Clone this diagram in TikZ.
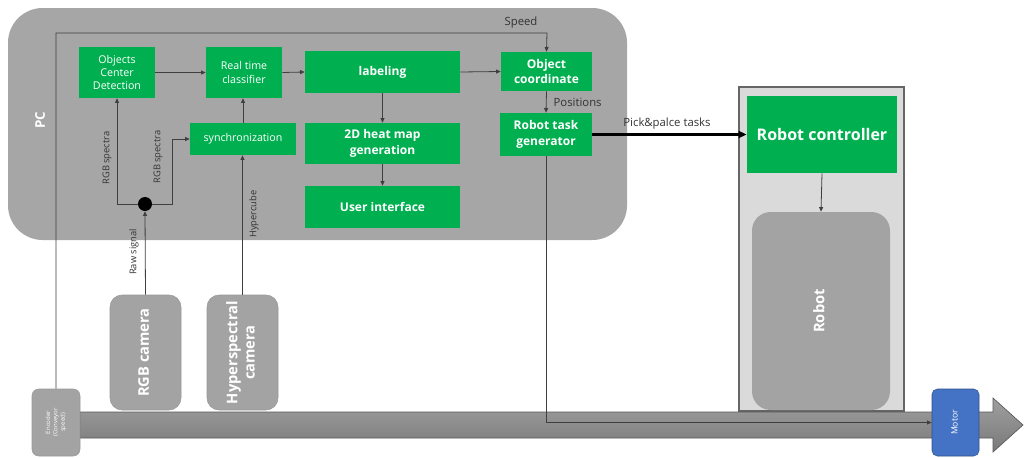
\documentclass[tikz,border=0pt]{standalone}
\usepackage{fontspec}
\setmainfont{Open Sans}
\usetikzlibrary{arrows.meta,calc}

\definecolor{pcgray}{HTML}{A6A6A6}
\definecolor{boxgreen}{HTML}{00B050}
\definecolor{camgray}{HTML}{A3A3A3}
\definecolor{cellgray}{HTML}{DADADA}
\definecolor{motorblue}{HTML}{4472C4}
\definecolor{linegray}{HTML}{3F3F3F}

\newcommand{\vtext}[1]{\rotatebox{90}{\begin{tabular}{@{}c@{}}#1\end{tabular}}}

\tikzset{
	greenbox/.style={fill=boxgreen, text=white, align=center, inner sep=1pt},
	smallgreen/.style={greenbox, font=\fontsize{8}{10}\selectfont},
	biggreen/.style={greenbox, font=\bfseries\fontsize{9}{11.5}\selectfont},
	graybox/.style={fill=camgray, draw=gray!80, rounded corners=9pt, text=white, inner sep=1pt, font=\bfseries\fontsize{11}{13}\selectfont},
	conn/.style={draw=linegray, line width=0.6pt, -{Triangle[length=3.5pt,width=3pt]}},
	lbl/.style={text=black!80, font=\fontsize{8.5}{10}\selectfont, inner sep=1pt},
	vlbl/.style={lbl, rotate=90, font=\fontsize{7}{8}\selectfont},
}

\begin{document}
\begin{tikzpicture}[x=0.75pt,y=-0.75pt]
	\useasboundingbox (0,0) rectangle (1024,457);
	
	% PC area and robot cell
	\fill[pcgray, rounded corners=26pt] (8,8) rectangle (627,240);
	\node[rotate=90, text=white, font=\bfseries\fontsize{10}{11}\selectfont] (pclbl) at (40,120) {PC};
	\draw[fill=cellgray, draw=gray!80!black, line width=0.8pt] (739,87) rectangle (904,411);
	
	% conveyor
	\shade[top color=gray!75, bottom color=gray!95!black, draw=gray!70!black, line width=0.5pt]
	(80,412) -- (993,412) -- (993,398) -- (1023,425) -- (993,452) -- (993,438) -- (80,438) -- cycle;
	
	% blocks in the PC
	\node[smallgreen, minimum width=57pt, minimum height=38.25pt] (ocd) at (117,72.5) {Objects\\Center\\Detection};
	\node[smallgreen, minimum width=57pt, minimum height=38.25pt] (rtc) at (244,72.5) {Real time\\classifier};
	\node[biggreen, minimum width=116.25pt, minimum height=31.5pt] (lab) at (382.5,72) {labeling};
	\node[biggreen, minimum width=68.25pt, minimum height=29.25pt] (objc) at (546.5,71.5) {Object\\coordinate};
	\node[smallgreen, minimum width=79.5pt, minimum height=24pt] (sync) at (243,139) {synchronization};
	\node[biggreen, minimum width=116.25pt, minimum height=30.75pt] (heat) at (382.5,143.5) {2D heat map\\generation};
	\node[biggreen, minimum width=116.25pt, minimum height=31.5pt] (ui) at (382.5,207) {User interface};
	\node[biggreen, minimum width=69pt, minimum height=32.25pt] (rtg) at (546,134.5) {Robot task\\generator};
	\node[circle, fill=black, minimum size=10.5pt, inner sep=0pt] (dot) at (145,204) {};
	
	% robot side
	\node[greenbox, font=\bfseries\fontsize{12}{14}\selectfont, minimum width=112.5pt, minimum height=57.75pt] (rc) at (822,134.5) {Robot controller};
	\node[graybox, draw=none, rounded corners=14pt, minimum width=103.5pt, minimum height=148.5pt] (robot) at (821,311) {\vtext{Robot}};
	
	% cameras, encoder, motor
	\node[graybox, minimum width=53.25pt, minimum height=86.25pt] (rgbcam) at (145.5,352.5) {\vtext{RGB camera}};
	\node[graybox, minimum width=53.25pt, minimum height=86.25pt] (hypcam) at (242.5,352.5) {\vtext{Hyperspectral\\camera}};
	\node[graybox, rounded corners=5pt, font=\fontsize{4.5}{5.5}\selectfont, minimum width=36pt, minimum height=50.25pt] (enc) at (56,422.5) {\vtext{Encoder\\(Conveyor\\speed)}};
	\node[fill=motorblue, draw=motorblue!70!black, rounded corners=4pt, text=white, inner sep=1pt, font=\fontsize{6.5}{8}\selectfont, minimum width=35.25pt, minimum height=50.25pt] (motor) at (955.5,422.5) {\vtext{Motor}};
	
	% connectors
	\coordinate (spd) at (547,33);
	\draw[conn] (enc.north) |- (spd) -- (objc.north);
	\node[lbl] (spdlbl) at (521,23) {Speed};
	\draw[conn] (ocd.east) -- (rtc.west);
	\draw[conn] (rtc.east) -- (lab.west);
	\draw[conn] (lab.east) -- (objc.west);
	\draw[conn] (lab.south) -- (heat.north);
	\draw[conn] (heat.south) -- (ui.north);
	\draw[conn] (objc.south) -- (rtg.north);
	\node[lbl, anchor=west] (poslbl) at (552,102) {Positions};
	\draw[conn] (sync.north) -- (sync.north |- rtc.south);
	\draw[conn] (hypcam.north) -- (hypcam.north |- sync.south);
	\node[vlbl] (hyplbl) at (254,214) {Hypercube};
	\draw[conn] (rgbcam.north) -- (dot.south);
	\node[vlbl] (rawlbl) at (134,252) {Raw signal};
	\draw[conn] (dot.west) -| (ocd.south);
	\node[vlbl] (rgblbl1) at (107,158) {RGB spectra};
	\draw[conn] (dot.east) -| ($(sync.west)+(-17,0)$) -- (sync.west);
	\node[vlbl] (rgblbl2) at (158,157) {RGB spectra};
	\draw[conn, draw=black, line width=1.6pt, -{Triangle[length=6pt,width=5pt]}] (rtg.east) -- (rc.west);
	\node[lbl] (picklbl) at (667,124) {Pick\&palce tasks};
	\draw[conn] (rtg.south) |- (motor.west);
	\draw[conn] (rc.south) -- (robot.north);
\end{tikzpicture}
\end{document}
